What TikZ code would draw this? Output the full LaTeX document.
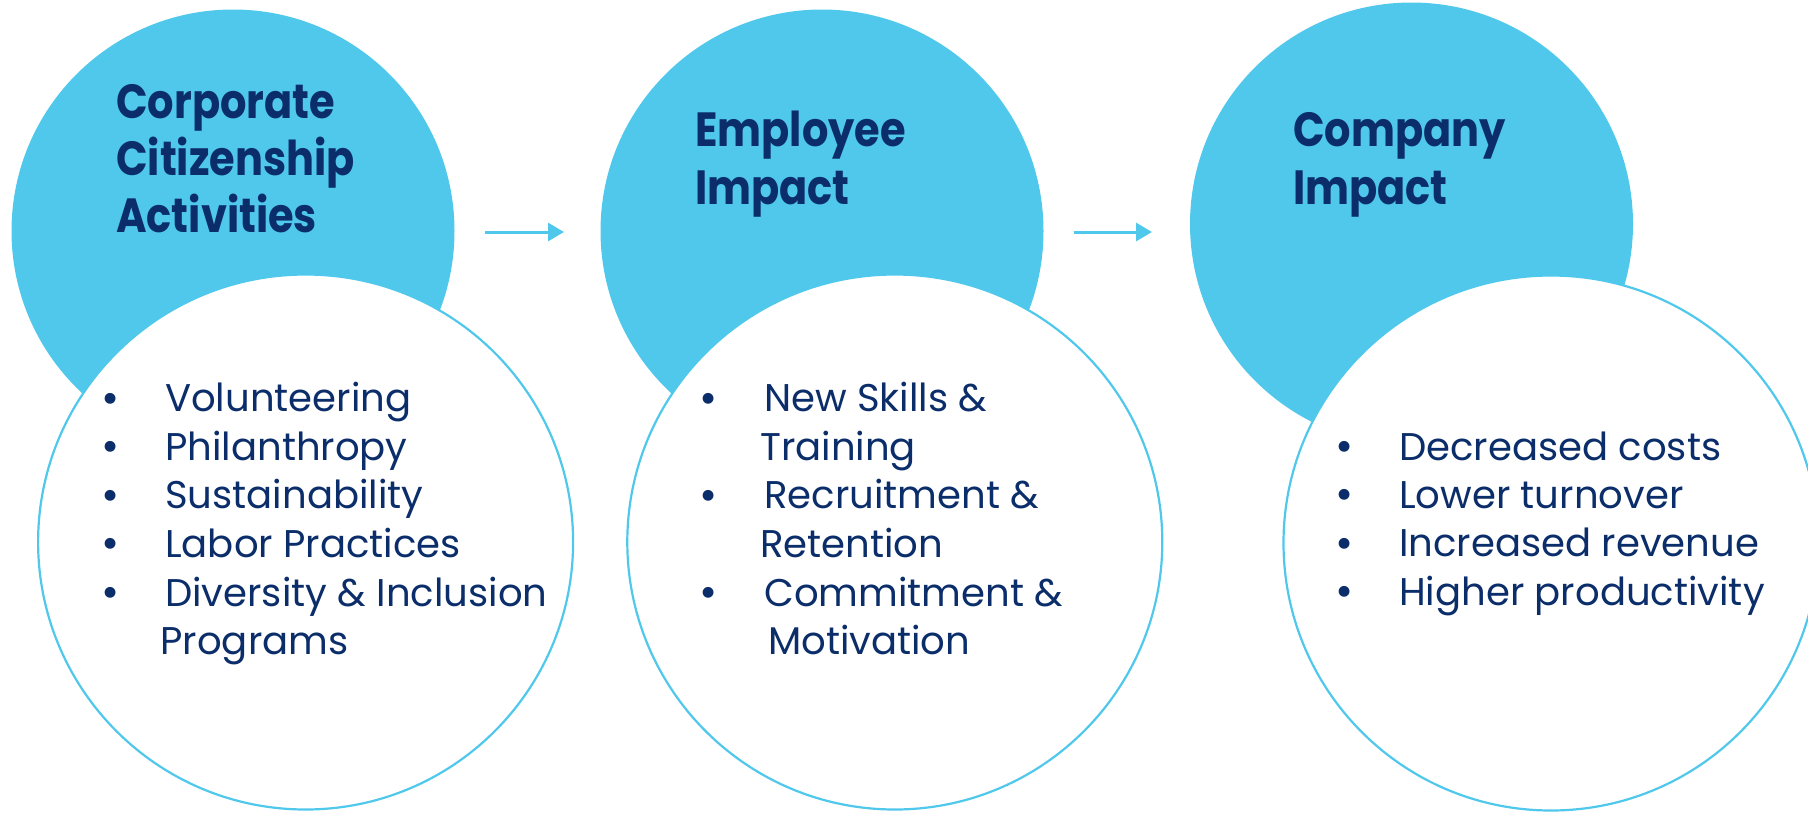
\documentclass[tikz,border=0pt]{standalone}
\usepackage{fontspec}
\setmainfont{Poppins}
\newfontfamily\titlefont{Poppins}[FakeStretch=0.865]
\usetikzlibrary{arrows.meta}
\definecolor{skyblue}{HTML}{4FC8EC}
\definecolor{navy}{HTML}{0B2E6B}
\tikzset{
  bluedisc/.style={circle, fill=skyblue, draw=none, minimum size=443pt, inner sep=0pt},
  whitedisc/.style={circle, fill=white, draw=skyblue, line width=2.2pt, minimum size=535pt, inner sep=0pt},
  titletext/.style={anchor=base west, inner sep=0pt, text=navy, font=\titlefont\bfseries\fontsize{48}{57}\selectfont},
  itemtext/.style={anchor=base west, inner sep=0pt, text=navy, font=\fontsize{38.6}{48}\selectfont},
  bullettext/.style={anchor=base, inner sep=0pt, text=navy, font=\fontsize{44}{48}\selectfont},
  flowarrow/.style={draw=skyblue, line width=3pt, -{Triangle[length=16pt, width=18pt]}}
}
\begin{document}
\begin{tikzpicture}[x=1pt, y=-1pt]
\useasboundingbox (0,0) rectangle (1808,812);
\begin{scope}
\clip (0,0) rectangle (1808,812);
% blue discs
\node[bluedisc] (c1) at (233,231) {};
\node[bluedisc] (c2) at (822,231) {};
\node[bluedisc] (c3) at (1411.5,224) {};
% white discs
\node[whitedisc] (w1) at (305.6,542) {};
\node[whitedisc] (w2) at (894.8,542) {};
\node[whitedisc] (w3) at (1551,543) {};
\end{scope}
% titles
\node[titletext] (t1a) at (116,118) {Corporate};
\node[titletext] (t1b) at (116,175.3) {Citizenship};
\node[titletext] (t1c) at (116,232.6) {Activities};
\node[titletext] (t2a) at (695,146.7) {Employee};
\node[titletext] (t2b) at (695,204) {Impact};
\node[titletext] (t3a) at (1293,146.7) {Company};
\node[titletext] (t3b) at (1293,204) {Impact};
% arrows
\coordinate (a1s) at (485,232);
\coordinate (a1e) at (564,232);
\coordinate (a2s) at (1073.5,232);
\coordinate (a2e) at (1152,232);
\draw[flowarrow] (a1s) -- (a1e);
\draw[flowarrow] (a2s) -- (a2e);
% list 1
\node[bullettext] (b11) at (110.7,413) {•};
\node[itemtext] (i11) at (165,411.7) {Volunteering};
\node[bullettext] (b12) at (110.7,461.6) {•};
\node[itemtext] (i12) at (165,460.3) {Philanthropy};
\node[bullettext] (b13) at (110.7,510.2) {•};
\node[itemtext] (i13) at (165,508.9) {Sustainability};
\node[bullettext] (b14) at (110.7,558.8) {•};
\node[itemtext] (i14) at (165,557.5) {Labor Practices};
\node[bullettext] (b15) at (110.7,607.4) {•};
\node[itemtext] (i15) at (165,606.1) {Diversity \& Inclusion};
\node[itemtext] (i16) at (160.3,654.7) {Programs};
% list 2
\node[bullettext] (b21) at (709,413) {•};
\node[itemtext] (i21) at (764,411.7) {New Skills \&};
\node[itemtext] (i22) at (760,460.3) {Training};
\node[bullettext] (b23) at (709,510.2) {•};
\node[itemtext] (i23) at (764,508.9) {Recruitment \&};
\node[itemtext] (i24) at (760,557.5) {Retention};
\node[bullettext] (b25) at (709,607.4) {•};
\node[itemtext] (i25) at (764,606.1) {Commitment \&};
\node[itemtext] (i26) at (768,654.7) {Motivation};
% list 3
\node[bullettext] (b31) at (1345,461.3) {•};
\node[itemtext] (i31) at (1399,460) {Decreased costs};
\node[bullettext] (b32) at (1345,509.7) {•};
\node[itemtext] (i32) at (1399,508.4) {Lower turnover};
\node[bullettext] (b33) at (1345,558.1) {•};
\node[itemtext] (i33) at (1399,556.8) {Increased revenue};
\node[bullettext] (b34) at (1345,606.5) {•};
\node[itemtext] (i34) at (1399,605.2) {Higher productivity};
\end{tikzpicture}
\end{document}
